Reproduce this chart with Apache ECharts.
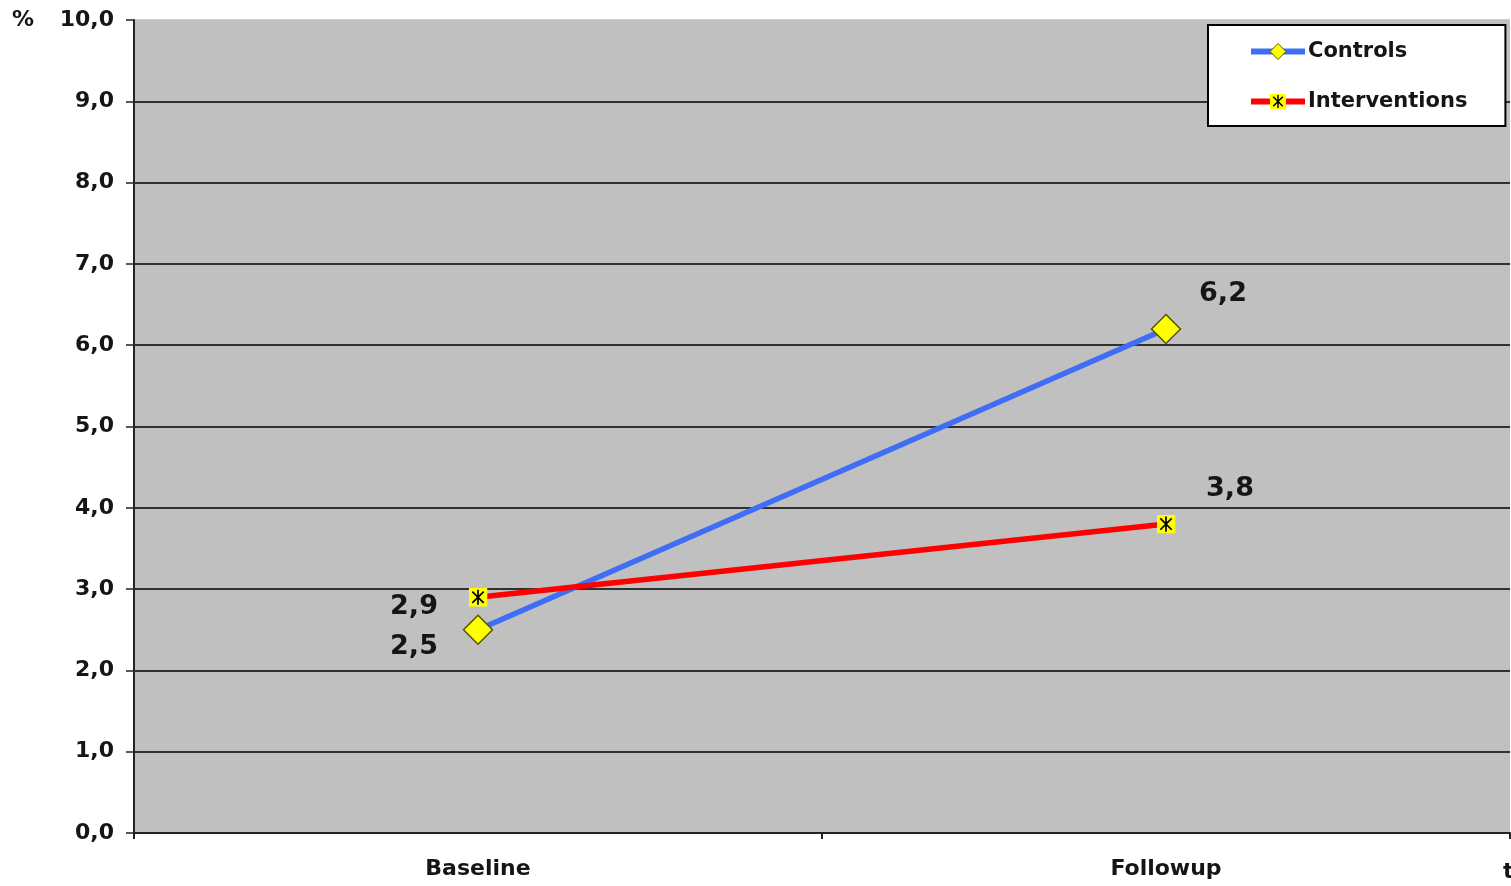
<!DOCTYPE html>
<html>
<head>
<meta charset="utf-8">
<script src="https://cdn.jsdelivr.net/npm/echarts@6/dist/echarts.min.js"></script>
<style>
  html, body { margin: 0; padding: 0; background: #fff; }
  #chart { width: 1511px; height: 886px; }
</style>
</head>
<body>
<div id="chart"></div>
<script>
// Survey periods and measured percentages
var categories = ['Baseline', 'Followup'];
var controls = [2.5, 6.2];
var interventions = [2.9, 3.8];
var yTicks = [0, 1, 2, 3, 4, 5, 6, 7, 8, 9, 10];

var FONT = '"DejaVu Sans", Verdana, sans-serif';
var TEXT = '#151515';

// yellow square with a black asterisk
var starSvg = '<svg xmlns="http://www.w3.org/2000/svg" width="20" height="20" viewBox="0 0 20 20">' +
  '<rect x="0" y="0" width="20" height="20" fill="#ffff00"/>' +
  '<path d="M10 2 V18 M4 4 L16 16 M16 4 L4 16" stroke="#000" stroke-width="1.8" fill="none"/>' +
  '</svg>';
var starSymbol = 'image://data:image/svg+xml;charset=utf-8,' + encodeURIComponent(starSvg);

function fmt(v) { return v.toFixed(1).replace('.', ','); }

// label offsets for each point, per series
var controlOffsets = [[-64, 17], [57, -35]];
var interventionOffsets = [[-64, 10], [64, -35]];

function points(values, offsets) {
  return values.map(function (v, i) {
    return { value: v, label: { offset: offsets[i] } };
  });
}

// gridline colours: the top line blends into the plot area
var splitColors = yTicks.map(function (t, i) { return i === yTicks.length - 1 ? '#c0c0c0' : '#000'; });

var chart = echarts.init(document.getElementById('chart'));
chart.setOption({
  animation: false,
  textStyle: { fontFamily: FONT },
  grid: {
    left: 134, right: 1, top: 20, bottom: 53,
    show: true, backgroundColor: '#c0c0c0', borderWidth: 0
  },
  legend: {
    orient: 'vertical',
    left: 1208, top: 25,
    backgroundColor: '#fff',
    borderColor: '#000', borderWidth: 2,
    padding: [16, 38, 14, 40],
    itemWidth: 54, itemHeight: 20, itemGap: 29,
    lineStyle: { width: 6 },
    textStyle: { fontFamily: FONT, fontWeight: 'bold', fontSize: 21, color: TEXT, padding: [0, 0, 0, -2] },
    data: [
      { name: 'Controls', itemStyle: { borderWidth: 1 } },
      { name: 'Interventions' }
    ]
  },
  xAxis: {
    type: 'category',
    data: categories,
    boundaryGap: true,
    axisLine: { lineStyle: { color: '#222', width: 2 } },
    axisTick: { show: true, length: 6, lineStyle: { color: '#222', width: 2 } },
    axisLabel: { fontFamily: FONT, fontWeight: 'bold', fontSize: 22, color: TEXT, margin: 25 }
  },
  yAxis: {
    type: 'value',
    min: 0, max: 10, interval: 1,
    axisLine: { show: true, lineStyle: { color: '#222', width: 2 } },
    axisTick: { show: true, length: 8, lineStyle: { color: '#222', width: 1.5 } },
    axisLabel: {
      fontFamily: FONT, fontWeight: 'bold', fontSize: 22, color: TEXT, margin: 20,
      formatter: function (v) { return fmt(v); }
    },
    splitLine: { show: true, lineStyle: { color: splitColors, width: 1.5 } }
  },
  graphic: [
    { type: 'text', left: 12, top: 9, style: { text: '%', font: 'bold 22px ' + FONT, fill: TEXT } },
    { type: 'text', left: 1503, top: 861, style: { text: 't', font: 'bold 22px ' + FONT, fill: TEXT } }
  ],
  series: [
    {
      name: 'Controls',
      type: 'line',
      data: points(controls, controlOffsets),
      symbol: 'diamond',
      symbolSize: 29,
      lineStyle: { color: '#3f6ef5', width: 5.5 },
      itemStyle: { color: '#ffff00', borderColor: '#555500', borderWidth: 1.5 },
      label: {
        show: true, position: 'inside',
        fontFamily: FONT, fontWeight: 'bold', fontSize: 27, color: TEXT,
        formatter: function (p) { return fmt(p.value); }
      },
      z: 3
    },
    {
      name: 'Interventions',
      type: 'line',
      data: points(interventions, interventionOffsets),
      symbol: starSymbol,
      symbolSize: 19,
      lineStyle: { color: '#ff0000', width: 5.5 },
      itemStyle: { color: '#ff0000' },
      label: {
        show: true, position: 'inside',
        fontFamily: FONT, fontWeight: 'bold', fontSize: 27, color: TEXT,
        formatter: function (p) { return fmt(p.value); }
      },
      z: 4
    }
  ]
});
</script>
</body>
</html>
